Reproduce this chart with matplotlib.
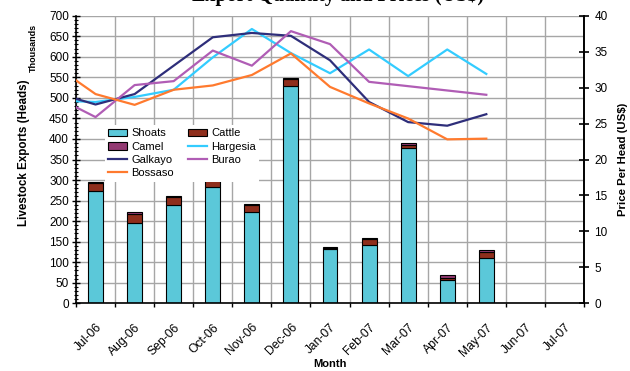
import matplotlib
matplotlib.use("Agg")
import matplotlib.pyplot as plt
import numpy as np
from matplotlib.patches import Patch
from matplotlib.lines import Line2D
from matplotlib.ticker import MultipleLocator, FixedLocator, NullFormatter

# --- data ---------------------------------------------------------------
months = ['Jul-06', 'Aug-06', 'Sep-06', 'Oct-06', 'Nov-06', 'Dec-06', 'Jan-07',
          'Feb-07', 'Mar-07', 'Apr-07', 'May-07', 'Jun-07', 'Jul-07']

# export volumes (thousand heads), Jul-06 .. May-07
shoats = [273, 196, 240, 284, 223, 530, 131, 141, 378, 57, 110]
cattle = [21, 21, 18, 18, 16, 15, 4, 15, 8, 5, 14]
camel = [2, 5, 3, 3, 3, 4, 2, 3, 4, 8, 5]

# prices per head (US$), Jun-06 .. May-07 (Jun-06 falls left of the axis)
price_months = ['Jun-06'] + months[:11]
hargesia = [28.2, 28.0, 28.7, 29.7, 34.2, 38.15, 34.8, 32.0, 35.3, 31.6, 35.3, 31.9]
galkayo = [29.25, 27.65, 29.1, 33.05, 37.0, 37.6, 37.2, 33.8, 28.0, 25.2, 24.7, 26.3]
burao = [28.65, 25.9, 30.35, 30.9, 35.15, 33.05, 37.85, 36.05, 30.8, 30.2, 29.6, 29.0]
bossaso = [32.9, 29.1, 27.6, 29.7, 30.3, 31.75, 34.75, 30.1, 27.8, 25.7, 22.8, 22.9]

# --- style --------------------------------------------------------------
c_shoats = '#5BC8D9'
c_cattle = '#8E2E1C'
c_camel = '#933A72'
c_harg = '#33CCFF'
c_galk = '#2E2E7A'
c_burao = '#B05DB5'
c_boss = '#FF7A2E'
grid_c = '#A6A6A6'

plt.rcParams['font.family'] = ['Liberation Sans', 'DejaVu Sans']

fig = plt.figure(figsize=(6.3, 3.71), dpi=100)
W, H = 630, 371
ax = fig.add_axes([76 / W, 1 - 303.3 / H, (584 - 76) / W, (303.3 - 15.7) / H])
ax2 = ax.twinx()

x = np.arange(len(shoats))
bw = 0.38
s = np.array(shoats, float)
c = np.array(cattle, float)
m = np.array(camel, float)
ax.bar(x, s, bw, color=c_shoats, edgecolor='black', linewidth=0.8, zorder=2)
ax.bar(x, c, bw, bottom=s, color=c_cattle, edgecolor='black', linewidth=0.8, zorder=2)
ax.bar(x, m, bw, bottom=s + c, color=c_camel, edgecolor='black', linewidth=0.8, zorder=2)

ax.set_xlim(-0.5, len(months) - 0.5)
ax.set_ylim(0, 700)
ax.yaxis.set_major_locator(MultipleLocator(50))
ax.yaxis.set_minor_locator(MultipleLocator(10))
ax.set_axisbelow(True)

# category boundaries carry the grid and tick marks, centres carry labels
ax.xaxis.set_major_locator(FixedLocator(np.arange(-0.5, len(months), 1.0)))
ax.xaxis.set_major_formatter(NullFormatter())
ax.xaxis.set_minor_locator(FixedLocator(np.arange(len(months))))
ax.set_xticklabels(months, minor=True, rotation=45, ha='right',
                   rotation_mode='anchor', fontsize=8.7)
ax.tick_params(axis='x', which='major', direction='out', length=3, width=1)
ax.tick_params(axis='x', which='minor', length=0, pad=13)
ax.tick_params(axis='y', which='major', direction='inout', length=6, width=1,
               labelsize=8.5, pad=2)
ax.tick_params(axis='y', which='minor', direction='inout', length=3, width=0.8)
ax.grid(True, which='major', color=grid_c, linewidth=1.0)

for sp in ['left', 'bottom', 'right']:
    ax.spines[sp].set_linewidth(1.2)
ax.spines['top'].set_visible(False)

# price lines on the secondary axis
px = np.arange(len(price_months)) - 1
ax2.plot(px, hargesia, color=c_harg, lw=1.6, zorder=3)
ax2.plot(px, galkayo, color=c_galk, lw=1.6, zorder=3)
ax2.plot(px, burao, color=c_burao, lw=1.6, zorder=3)
ax2.plot(px, bossaso, color=c_boss, lw=1.6, zorder=3)
ax2.set_ylim(0, 40)
ax2.set_xlim(-0.5, len(months) - 0.5)
ax2.yaxis.set_major_locator(MultipleLocator(5))
ax2.tick_params(axis='y', direction='inout', length=7, width=1.2, labelsize=8.5, pad=4)
for sp in ['top', 'left', 'bottom']:
    ax2.spines[sp].set_visible(False)
ax2.spines['right'].set_linewidth(1.2)

# labels
fig.text(24 / W, 1 - 153 / H, 'Livestock Exports (Heads)', rotation=90,
         ha='center', va='center', fontsize=8.4, fontweight='bold')
fig.text(33 / W, 1 - 48 / H, 'Thousands', rotation=90, ha='center',
         va='center', fontsize=6.5, fontweight='bold')
fig.text(623 / W, 1 - 159 / H, 'Price Per Head (US$)', rotation=90,
         ha='center', va='center', fontsize=8.2, fontweight='bold')
fig.text(330 / W, 1 - 364 / H, 'Month', ha='center', va='center',
         fontsize=8, fontweight='bold')
fig.text(338 / W, 1 - 0.5 / H, 'Export Quantity and Prices (US$)', ha='center',
         va='baseline', fontsize=14.5, fontweight='bold',
         family=['Liberation Serif', 'DejaVu Serif'])

# legend laid out row by row: Shoats/Cattle, Camel/Hargesia, Galkayo/Burao, Bossaso
h_shoats = Patch(facecolor=c_shoats, edgecolor='black', linewidth=0.8, label='Shoats')
h_cattle = Patch(facecolor=c_cattle, edgecolor='black', linewidth=0.8, label='Cattle')
h_camel = Patch(facecolor=c_camel, edgecolor='black', linewidth=0.8, label='Camel')
h_harg = Line2D([], [], color=c_harg, lw=1.6, label='Hargesia')
h_galk = Line2D([], [], color=c_galk, lw=1.6, label='Galkayo')
h_burao = Line2D([], [], color=c_burao, lw=1.6, label='Burao')
h_boss = Line2D([], [], color=c_boss, lw=1.6, label='Bossaso')
handles = [h_shoats, h_camel, h_galk, h_boss, h_cattle, h_harg, h_burao]
leg = ax2.legend(handles=handles, ncol=2, loc='upper left',
                 bbox_to_anchor=(105 / W, 1 - 125 / H),
                 bbox_transform=fig.transFigure, fontsize=8,
                 frameon=True, fancybox=False, edgecolor='none',
                 facecolor='white', framealpha=1.0, borderpad=0.3,
                 labelspacing=0.3, handlelength=1.7, handleheight=0.7,
                 handletextpad=0.35, columnspacing=1.3, borderaxespad=0)
leg.set_zorder(10)

fig.savefig('out.png', dpi=100)
